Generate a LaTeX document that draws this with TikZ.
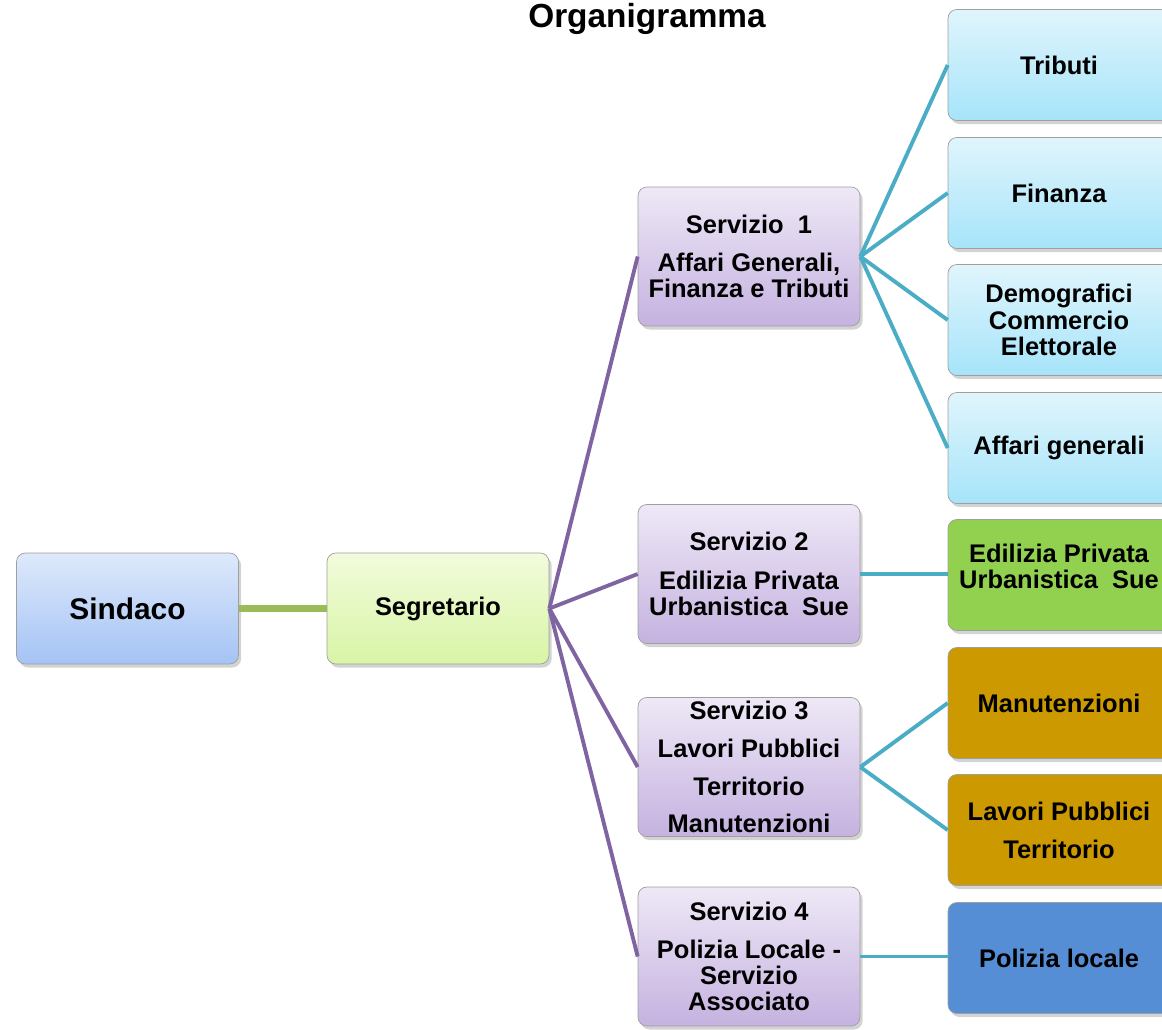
\documentclass[tikz,border=0pt]{standalone}
\usepackage{fontspec}
\setmainfont{Liberation Sans}
\usetikzlibrary{shadows}

\definecolor{lineagreen}{HTML}{9BBB59}
\definecolor{lineaviola}{HTML}{8064A2}
\definecolor{lineaazzurra}{HTML}{4BACC6}
\definecolor{oro}{HTML}{CC9900}
\definecolor{verdeprato}{HTML}{92D050}
\definecolor{blupolizia}{HTML}{558ED5}

\tikzset{
  box/.style={draw=gray!75, rounded corners=5pt, minimum width=4.44cm,
    minimum height=2.22cm, align=center, inner sep=2pt,
    font=\bfseries\fontsize{14.5}{15}\selectfont,
    drop shadow={shadow xshift=1.5pt, shadow yshift=-2pt, opacity=0.35}},
  sindacobox/.style={box, top color={rgb,255:red,222;green,233;blue,251}, bottom color={rgb,255:red,164;green,195;blue,245},
    font=\bfseries\fontsize{17}{18}\selectfont},
  segretariobox/.style={box, top color={rgb,255:red,242;green,251;blue,220}, bottom color={rgb,255:red,216;green,245;blue,166}},
  serviziobox/.style={box, minimum height=2.78cm, top color={rgb,255:red,238;green,232;blue,246}, bottom color={rgb,255:red,197;green,178;blue,224}},
  ufficiobox/.style={box, top color={rgb,255:red,224;green,245;blue,252}, bottom color={rgb,255:red,166;green,228;blue,250}},
  pienobox/.style={box, fill=#1},
  ramo/.style={line width=2.2pt}
}

\begin{document}
\begin{tikzpicture}[x=0.02cm, y=-0.02cm]
  \useasboundingbox (0,0) rectangle (1162,1029);

  % Title
  \node [anchor=base, font=\bfseries\fontsize{19}{20}\selectfont] (titolo) at (647,27) {Organigramma};

  % Left column
  \node [sindacobox] (sindaco) at (127.5,608.5) {Sindaco};
  \node [segretariobox] (segretario) at (438,608.5) {Segretario};

  % Services
  \node [serviziobox] (serv1) at (749,256.5) {Servizio\ \ 1\\[6.5pt]Affari Generali,\\Finanza e Tributi};
  \node [serviziobox] (serv2) at (749,574) {Servizio 2\\[7pt]Edilizia Privata\\Urbanistica\ \ Sue};
  \node [serviziobox] (serv3) at (749,767) {Servizio 3\\[6.5pt]Lavori Pubblici\\[6.5pt]Territorio\\[6.5pt]Manutenzioni};
  \node [serviziobox] (serv4) at (749,956.5) {Servizio 4\\[6.5pt]Polizia Locale -\\Servizio\\Associato};

  % Offices
  \node [ufficiobox] (tributi) at (1059,65) {Tributi};
  \node [ufficiobox] (finanza) at (1059,193) {Finanza};
  \node [ufficiobox] (demografici) at (1059,320) {Demografici\\Commercio\\Elettorale};
  \node [ufficiobox] (affari) at (1059,448) {Affari generali};
  \node [pienobox=verdeprato, text depth=10pt] (edilizia) at (1059,575) {Edilizia Privata\\Urbanistica\ \ Sue};
  \node [pienobox=oro] (manutenzioni) at (1059,703) {Manutenzioni};
  \node [pienobox=oro] (lavori) at (1059,830) {Lavori Pubblici\\[6.5pt]Territorio};
  \node [pienobox=blupolizia] (polizia) at (1059,958) {Polizia locale};

  % Connectors
  \draw [line width=3.7pt, lineagreen] (sindaco.east) -- (segretario.west);
  \foreach \s in {serv1, serv2, serv3, serv4} {
    \draw [ramo, lineaviola] (segretario.east) -- (\s.west);
  }
  \foreach \u in {tributi, finanza, demografici, affari} {
    \draw [ramo, lineaazzurra] (serv1.east) -- (\u.west);
  }
  \draw [ramo, lineaazzurra] (serv2.east) -- (serv2.east -| edilizia.west);
  \foreach \u in {manutenzioni, lavori} {
    \draw [ramo, lineaazzurra] (serv3.east) -- (\u.west);
  }
  \draw [ramo, lineaazzurra] (serv4.east) -- (serv4.east -| polizia.west);
\end{tikzpicture}
\end{document}
